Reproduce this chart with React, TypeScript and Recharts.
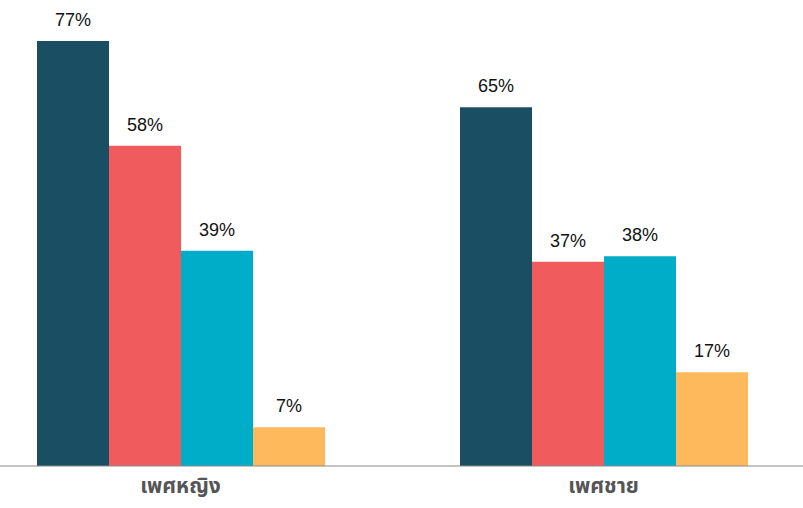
import React from 'react'
import { BarChart, Bar, XAxis, YAxis, LabelList } from 'recharts'

const categories = ['เพศหญิง', 'เพศชาย']
const seriesA = [77, 65]
const seriesB = [58, 37]
const seriesC = [39, 38]
const seriesD = [7, 17]

const COLORS = ['#1a4f63', '#f05c5e', '#00adc9', '#fdb95c']

const data = categories.map((name, i) => ({
    name,
    a: seriesA[i],
    b: seriesB[i],
    c: seriesC[i],
    d: seriesD[i],
}))

const labelStyle = { fontSize: 18, fill: '#111', fontFamily: 'Liberation Sans, Arial, sans-serif' }

export default function App() {
    return (
        <div style={{ position: 'fixed', left: 0, top: 0, width: 803, height: 508, overflow: 'hidden', background: '#fff' }}>
            <div style={{ position: 'absolute', left: -31, top: 0 }}>
                <BarChart
                    width={846}
                    height={508}
                    data={data}
                    margin={{ top: 24.4, right: 0, bottom: 0, left: 0 }}
                    barGap={0}
                    barSize={72}
                >
                    <XAxis
                        dataKey="name"
                        height={42}
                        stroke="#888"
                        tickLine={false}
                        tick={{ fill: '#555', fontSize: 21, fontWeight: 'bold', fontFamily: 'Noto Sans Thai, Noto Sans, sans-serif' }}
                        tickMargin={6}
                    />
                    <YAxis hide domain={[0, 80]} />
                    {(['a', 'b', 'c', 'd'] as const).map((key, i) => (
                        <Bar key={key} dataKey={key} fill={COLORS[i]} isAnimationActive={false}>
                            <LabelList dataKey={key} position="top" offset={15} formatter={(v: any) => `${v}%`} style={labelStyle} />
                        </Bar>
                    ))}
                </BarChart>
            </div>
        </div>
    )
}
